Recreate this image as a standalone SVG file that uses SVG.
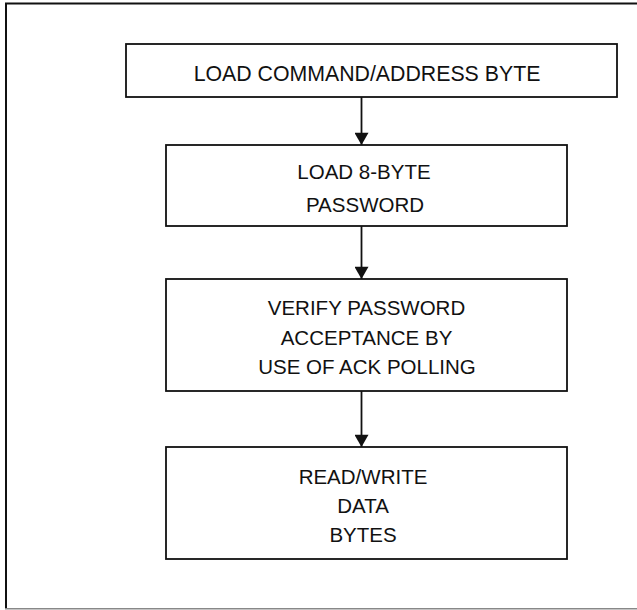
<svg xmlns="http://www.w3.org/2000/svg" width="637" height="610" viewBox="0 0 637 610">
<defs>
<style>
.box{fill:#fff;stroke:#111;stroke-width:1.8}
.lbl{font-family:"Liberation Sans",Arial,sans-serif;font-size:20.5px;fill:#111;text-anchor:middle}
.conn{stroke:#111;stroke-width:1.8;fill:none}
.frame{stroke:#111;stroke-width:2;fill:none}
</style>
<marker id="arr" markerWidth="16" markerHeight="14" refX="14" refY="8" orient="auto" markerUnits="userSpaceOnUse" viewBox="0 0 14 16">
<path d="M0,0 L14,8 L0,16 Z" fill="#111"/>
</marker>
</defs>
<rect width="637" height="610" fill="#fff"/>
<g id="frame">
<line class="frame" x1="5" y1="3.5" x2="637" y2="3.5"/>
<line class="frame" x1="6" y1="3" x2="6" y2="609"/>
<line x1="5" y1="608.8" x2="637" y2="608.8" stroke="#888" stroke-width="1.5"/>
</g>
<g id="connectors">
<line class="conn" x1="361.5" y1="97" x2="361.5" y2="145" marker-end="url(#arr)"/>
<line class="conn" x1="361.5" y1="226" x2="361.5" y2="279" marker-end="url(#arr)"/>
<line class="conn" x1="361.5" y1="391" x2="361.5" y2="447" marker-end="url(#arr)"/>
</g>
<g id="node1">
<rect class="box" x="126" y="44" width="491" height="53"/>
<text class="lbl" x="367" y="81" style="font-size:21.3px">LOAD COMMAND/ADDRESS BYTE</text>
</g>
<g id="node2">
<rect class="box" x="166" y="145" width="401" height="81"/>
<text class="lbl" x="364" y="179">LOAD 8-BYTE</text>
<text class="lbl" x="365" y="212">PASSWORD</text>
</g>
<g id="node3">
<rect class="box" x="166" y="279" width="401" height="112"/>
<text class="lbl" x="366.5" y="315">VERIFY PASSWORD</text>
<text class="lbl" x="366.5" y="345">ACCEPTANCE BY</text>
<text class="lbl" x="367" y="374">USE OF ACK POLLING</text>
</g>
<g id="node4">
<rect class="box" x="166" y="447" width="401" height="112"/>
<text class="lbl" x="363" y="484">READ/WRITE</text>
<text class="lbl" x="363" y="513">DATA</text>
<text class="lbl" x="363" y="542">BYTES</text>
</g>
</svg>
